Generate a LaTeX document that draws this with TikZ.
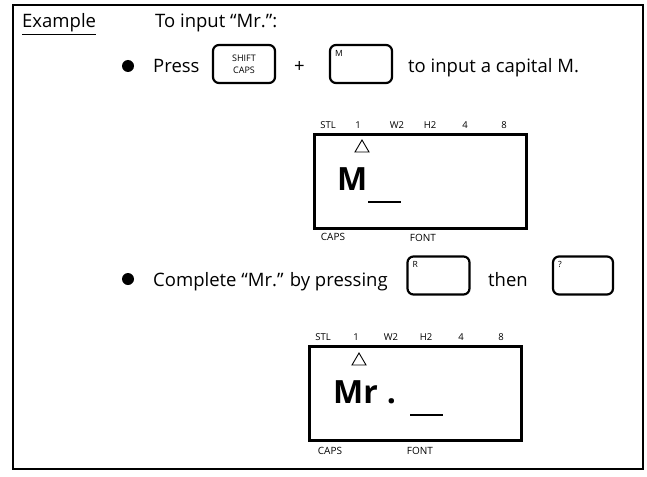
\documentclass[tikz,border=0pt]{standalone}
\usepackage{fontspec}
\setmainfont{Open Sans}

\begin{document}
\begin{tikzpicture}[x=1pt,y=-1pt,
  key/.style={draw,rounded corners=6pt,line width=2.2pt,minimum width=62pt,minimum height=38pt,inner sep=0pt},
  keytag/.style={font=\fontsize{8.5}{9}\selectfont,anchor=north west,inner sep=0pt},
  lcd/.style={draw,line width=2.8pt,minimum width=212pt,minimum height=94pt,inner sep=0pt,anchor=north west},
  lcdtag/.style={font=\fontsize{9.5}{10}\selectfont,inner sep=0pt},
  lcdtext/.style={font=\fontsize{32}{34}\selectfont\bfseries,anchor=base west,inner sep=0pt},
  cursor/.style={line width=2.4pt},
  tri/.style={line width=0.9pt,line join=miter},
  dot/.style={circle,fill,minimum size=12pt,inner sep=0pt},
  txt/.style={font=\fontsize{18.5}{20}\selectfont,anchor=base west,inner sep=0pt}]

  \useasboundingbox (0,0) rectangle (647,476);
  \draw[line width=1.3pt] (13,5) rectangle (643,469);

  % heading
  \node[txt] (ex) at (22,28) {\underline{Example}};
  \node[txt] (head) at (155,28) {To input “Mr.”:};

  % first step
  \node[dot] (b1) at (128,66) {};
  \node[txt] (press) at (153,73) {Press};
  \node[key] (shift) at (244,64) {};
  \node[font=\fontsize{9}{12}\selectfont,align=center,inner sep=0pt] (shiftlbl) at (shift) {SHIFT\\CAPS};
  \node[txt] (plus) at (294,73) {+};
  \node[key] (m) at (361,64) {};
  \node[keytag] (mlbl) at ([shift={(6pt,-6pt)}]m.north west) {M};
  \node[txt] (cap) at (408,73) {to input a capital M.};

  % display after first step
  \node[lcd] (lcd1) at (313,133) {};
  \foreach \n/\dx in {STL/15,1/45,W2/84,H2/117,4/152,8/191}
    \node[lcdtag] (t1\dx) at (313+\dx,125) {\n};
  \draw[tri] (355,152) -- (369,152) -- (362,140) -- cycle;
  \node[lcdtext] (chr1) at (337,190) {M};
  \draw[cursor] (368,202) -- (401,202);
  \node[lcdtag,font=\fontsize{10}{11}\selectfont] (caps1) at (333,237) {CAPS};
  \node[lcdtag,font=\fontsize{10}{11}\selectfont] (font1) at (423,238) {FONT};

  % second step
  \node[dot] (b2) at (128,279) {};
  \node[txt] (compl) at (153,286) {Complete “Mr.” by pressing};
  \node[key] (r) at (438.5,275.5) {};
  \node[keytag] (rlbl) at ([shift={(6pt,-6pt)}]r.north west) {R};
  \node[txt] (then) at (488,286) {then};
  \node[key,minimum width=60pt] (q) at (583,275.5) {};
  \node[keytag] (qlbl) at ([shift={(6pt,-6pt)}]q.north west) {?};

  % display after second step
  \node[lcd] (lcd2) at (308,345) {};
  \foreach \n/\dx in {STL/15,1/48,W2/83,H2/118,4/153,8/193}
    \node[lcdtag] (t2\dx) at (308+\dx,337) {\n};
  \draw[tri] (352,365) -- (366,365) -- (359,353) -- cycle;
  \node[lcdtext] (chr2) at (333,403) {Mr\kern9pt.};
  \draw[cursor] (410,415) -- (443,415);
  \node[lcdtag,font=\fontsize{10}{11}\selectfont] (caps2) at (330,451) {CAPS};
  \node[lcdtag,font=\fontsize{10}{11}\selectfont] (font2) at (420,451) {FONT};
\end{tikzpicture}
\end{document}
